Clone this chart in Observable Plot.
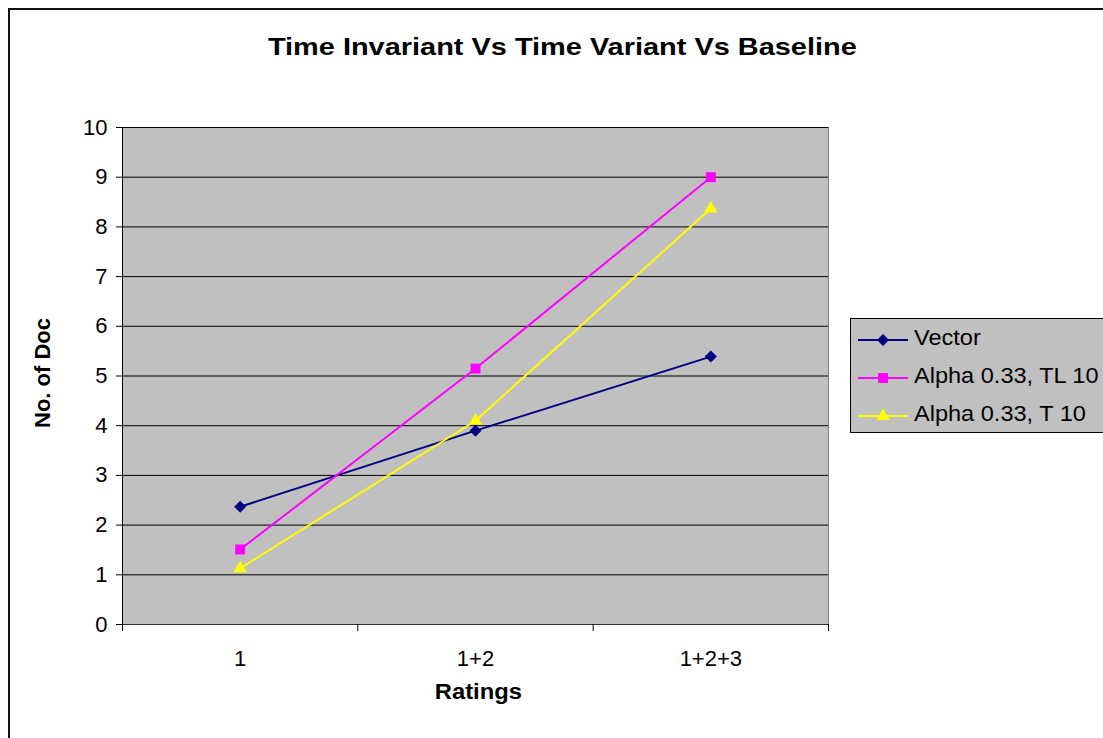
<!DOCTYPE html>
<html><head><meta charset="utf-8">
<script src="https://cdn.jsdelivr.net/npm/d3@7"></script>
<script src="https://cdn.jsdelivr.net/npm/@observablehq/plot@0.6"></script>
<style>
html,body{margin:0;padding:0;background:#fff;overflow:hidden;width:1103px;height:738px;}
#wrap{position:relative;width:1103px;height:738px;font-family:"Liberation Sans",Arial,sans-serif;color:#000;}
#border{position:absolute;left:8px;top:8px;width:1200px;height:900px;border:2px solid #111;box-sizing:border-box;}
#title{position:absolute;left:0;width:1124px;top:33px;text-align:center;white-space:nowrap;}
#title span{display:inline-block;font-weight:bold;font-size:24px;transform:scaleX(1.205);transform-origin:50% 50%;}
#xlab{position:absolute;left:0;width:957px;top:679px;text-align:center;}
#xlab span{display:inline-block;font-weight:bold;font-size:22px;transform:scaleX(1.08);transform-origin:50% 50%;}
#ylabclip{position:absolute;left:31px;top:317px;width:28px;height:111px;overflow:hidden;}
#ylab{position:absolute;left:0;top:111px;transform-origin:0 0;transform:rotate(-90deg);white-space:nowrap;font-weight:bold;font-size:22px;line-height:24px;}
#legend{position:absolute;left:850px;top:318px;width:300px;height:115px;background:#c0c0c0;border:1px solid #000;box-sizing:border-box;}
.li{position:absolute;left:6px;height:30px;display:flex;align-items:center;font-size:22px;white-space:nowrap;}
.li svg{margin-right:5px;}
.li span{display:inline-block;position:relative;top:-2px;transform:scaleX(1.07);transform-origin:0 50%;}
#chart{position:absolute;left:0;top:0;}
</style></head>
<body><div id="wrap">
<div id="border"></div>
<div id="chart"></div>
<div id="title"><span>Time Invariant Vs Time Variant Vs Baseline</span></div>
<div id="xlab"><span>Ratings</span></div>
<div id="ylabclip"><div id="ylab">No. of Documents</div></div>
<div id="legend"></div>
</div>
<script>
const categories = ["1", "1+2", "1+2+3"];
const yTicks = [0,1,2,3,4,5,6,7,8,9,10];
const seriesNames = ["Vector", "Alpha 0.33, TL 10", "Alpha 0.33, T 10"];
const vector = [2.37, 3.9, 5.39];
const alphaTL = [1.51, 5.15, 9.0];
const alphaT = [1.13, 4.1, 8.37];
const colors = ["#000080", "#ff00ff", "#ffff00"];
const symbols = ["diamond2", "square", "triangle"];
const radii = [5.4, 5.6, 5.0];

const allValues = [vector, alphaTL, alphaT];
const series = seriesNames.map((name, s) => ({
  name, color: colors[s], symbol: symbols[s], r: radii[s],
  data: categories.map((c, i) => ({cat: c, x: i + 0.5, y: allValues[s][i]}))
}));

const marks = [
  Plot.frame({fill: "#c0c0c0", stroke: "#808080"}),
  Plot.gridY(yTicks.slice(1), {stroke: "#000", strokeOpacity: 1}),
  Plot.ruleX([0], {stroke: "#000"}),
  Plot.ruleY([0], {stroke: "#333"}),
  Plot.axisY({ticks: yTicks, tickSize: 6, tickPadding: 9, label: null, tickFormat: d => String(d)}),
  Plot.axisX({ticks: [0, 1, 2, 3], tickSize: 7, tickFormat: () => "", label: null}),
  Plot.axisX({ticks: categories.map((_, i) => i + 0.5), tickSize: 0, tickPadding: 26,
              tickFormat: d => categories[Math.round(d - 0.5)], label: null})
];
for (const s of series) {
  marks.push(Plot.line(s.data, {x: "x", y: "y", stroke: s.color, strokeWidth: 2}));
  marks.push(Plot.dot(s.data, {x: "x", y: "y", symbol: () => s.symbol, r: s.r, fill: s.color, stroke: "none"}));
}

const chart = Plot.plot({
  width: 1103, height: 738,
  marginLeft: 122, marginRight: 275, marginTop: 127, marginBottom: 114,
  x: {domain: [0, 3]},
  y: {domain: [0, 10]},
  symbol: {type: "identity"},
  style: {fontFamily: "'Liberation Sans', Arial, sans-serif", fontSize: "22px", background: "transparent", color: "#000", overflow: "visible"},
  marks
});
document.getElementById("chart").appendChild(chart);

// legend
const legend = document.getElementById("legend");
const symMap = {diamond2: d3.symbolDiamond2, square: d3.symbolSquare, triangle: d3.symbolTriangle};
series.forEach((s, i) => {
  const row = document.createElement("div");
  row.className = "li";
  row.style.top = (6 + i * 38) + "px";
  const size = Math.PI * s.r * s.r;
  const path = d3.symbol(symMap[s.symbol], size)();
  row.innerHTML = `<svg width="52" height="20"><line x1="1" x2="51" y1="10" y2="10" stroke="${s.color}" stroke-width="2"/><path transform="translate(26,10)" d="${path}" fill="${s.color}"/></svg><span>${s.name}</span>`;
  legend.appendChild(row);
});
</script>
</body></html>
